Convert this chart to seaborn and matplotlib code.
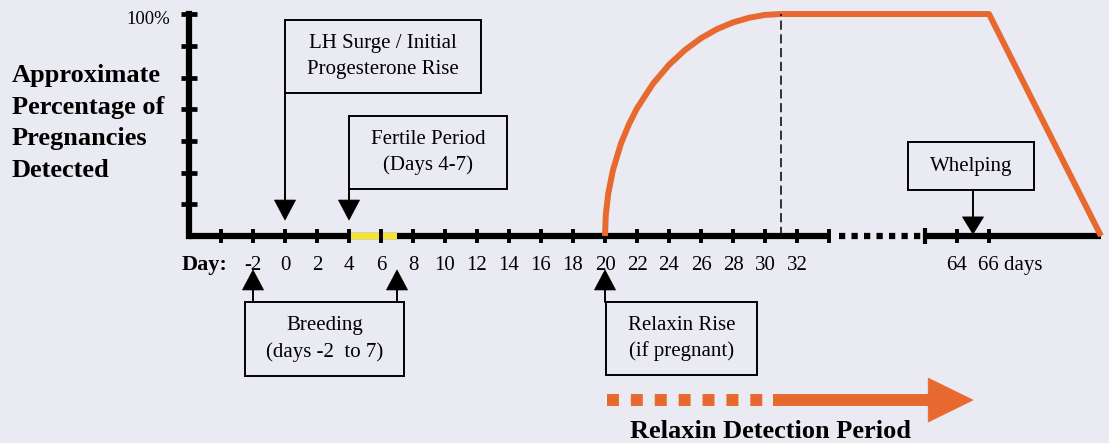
import numpy as np
import pandas as pd
import matplotlib
matplotlib.use("Agg")
import matplotlib.pyplot as plt
import seaborn as sns
from matplotlib.patches import Rectangle, Polygon

# ---------------- data ----------------
axis_tick_days = list(range(-4, 36, 2))          # tick marks on the early axis
tick_label_days = list(range(-2, 34, 2))         # labelled days
late_tick_days = [64, 66]
late_tick_labels = ["64", "66 days"]
pct_ticks = [14.3, 28.6, 42.9, 57.1, 71.4, 85.7, 100]
fertile_days = [4, 7]
plateau_start_day = 31

curve_days = [20, 20.05, 20.2, 20.5, 21, 21.5, 22, 23, 24, 25, 26, 27, 28, 29, 30, 31, 66, 73]
curve_pct = [0, 9.5, 19, 29.8, 41.7, 50.4, 57.5, 68.6, 77.1, 83.8, 89.1, 93.2, 96.2, 98.3, 99.6, 100, 100, 0]

ylabel_lines = ["Approximate", "Percentage of", "Pregnancies", "Detected"]

# ---------------- style ----------------
BG = "#EAEAF2"
ORANGE = "#E8692F"
YELLOW = "#F5E52A"
sns.set_theme(style="dark", rc={"axes.facecolor": BG, "figure.facecolor": BG,
                                "text.color": "black"})
plt.rcParams["font.family"] = ["Liberation Serif", "DejaVu Serif"]
plt.rcParams["text.color"] = "black"

BREAK_SHIFT = 22   # days hidden by the axis break


def xpos(d):
    d = np.asarray(d, dtype=float)
    return np.where(d > 40, d - BREAK_SHIFT, d)


fig = plt.figure(figsize=(11.09, 4.43), dpi=100, facecolor=BG)
ax = fig.add_axes([0, 0, 1, 1])
ax.set_facecolor(BG)

AX_LW = 4.5
# y axis
ax.plot([-6, -6], [0, 100], color="black", lw=AX_LW, solid_capstyle="projecting")
for v in pct_ticks:
    ax.plot([-6.47, -5.53], [v, v], color="black", lw=3.4, solid_capstyle="butt")

# early x axis
ax.plot([-6, 34], [0, 0], color="black", lw=AX_LW, solid_capstyle="butt")
ax.plot(fertile_days, [0, 0], color=YELLOW, lw=AX_LW, solid_capstyle="butt")
ax.vlines(axis_tick_days, -3.2, 3.2, color="black", lw=2.8)
# break (dotted)
ax.plot([34.6, 39.8], [0, 0], color="black", lw=AX_LW, dashes=(1, 1), solid_capstyle="butt",
        dash_capstyle="butt")
# late x axis
ax.plot([xpos(62), xpos(73)], [0, 0], color="black", lw=AX_LW, solid_capstyle="butt")
ax.vlines([xpos(62)], -3.4, 3.4, color="black", lw=3.0)
ax.vlines(xpos(late_tick_days), -3.2, 3.2, color="black", lw=2.8)

# tick labels
LAB_Y = -13.2
for d in tick_label_days:
    ax.text(d, LAB_Y, str(d), ha="center", va="center", fontsize=15, color="black")
ax.text(float(xpos(64)), LAB_Y, late_tick_labels[0], ha="center", va="center", fontsize=15,
        color="black")
ax.text(float(xpos(66)) - 0.7, LAB_Y, late_tick_labels[1], ha="left", va="center", fontsize=15,
        color="black")
ax.text(-3.6, LAB_Y, "Day:", ha="right", va="center", fontsize=16, fontweight="bold",
        color="black")

ax.text(-7.2, 97.5, "100%", ha="right", va="center", fontsize=13.5, color="black")
for i, line in enumerate(ylabel_lines):
    ax.text(-17.06, 69.4 - 14.3 * i, line, ha="left", va="baseline", fontsize=19,
            fontweight="bold", color="black")

# curve
df = pd.DataFrame({"x": xpos(curve_days), "pct": curve_pct})
sns.lineplot(data=df, x="x", y="pct", sort=False, estimator=None, color=ORANGE, lw=4.3, ax=ax)
ax.lines[-1].set_solid_capstyle("butt")
ax.plot([plateau_start_day, plateau_start_day], [0, 100], color="black", lw=1.1, dashes=(6, 3))


# boxes with arrows
def box(x0, x1, y0, y1, text):
    ax.add_patch(Rectangle((x0, y0), x1 - x0, y1 - y0, fill=False, ec="black", lw=1.4))
    ax.text((x0 + x1) / 2, (y0 + y1) / 2, text, ha="center", va="center", fontsize=15,
            linespacing=1.45, color="black")


def arrow(x, y_from, y_base, y_tip):
    ax.plot([x, x], [y_from, y_base], color="black", lw=1.4)
    ax.add_patch(Polygon([(x - 0.66, y_base), (x + 0.66, y_base), (x, y_tip)],
                         closed=True, fc="black", ec="black", lw=0.5))


box(0, 12.25, 64.4, 97.3, "LH Surge / Initial\nProgesterone Rise")
arrow(0, 64.4, 16.2, 7.2)
box(4, 13.9, 21.2, 54.05, "Fertile Period\n(Days 4-7)")
arrow(4, 21.2, 16.2, 7.2)
box(-2.5, 7.44, -63.1, -29.7, "Breeding\n(days -2  to 7)")
arrow(-2, -29.7, -24.3, -15.3)
arrow(7, -29.7, -24.3, -15.3)
box(20.06, 29.5, -62.6, -29.7, "Relaxin Rise\n(if pregnant)")
arrow(20, -29.7, -24.3, -15.3)
wx = float(xpos(65))
box(float(xpos(60.94)), float(xpos(68.8)), 20.7, 42.3, "Whelping")
arrow(wx, 20.7, 8.6, 0.9)

# relaxin detection period arrow
ax.plot([20.125, 29.875], [-73.9, -73.9], color=ORANGE, lw=8.6, dashes=(1, 1),
        dash_capstyle="butt")
ax.plot([30.5, 40.3], [-73.9, -73.9], color=ORANGE, lw=8.6, solid_capstyle="butt")
ax.add_patch(Polygon([(40.2, -64.0), (40.2, -83.8), (43.0, -73.9)], closed=True,
                     fc=ORANGE, ec=ORANGE, lw=0.5))
ax.text(30.375, -91.0, "Relaxin Detection Period", ha="center", va="baseline",
        fontsize=19, fontweight="bold", color="black")

ax.set_xlim(-17.8125, 51.5)
ax.set_ylim(-93.24, 106.31)
ax.set_axis_off()
fig.savefig("out.png", dpi=100, facecolor=BG)
